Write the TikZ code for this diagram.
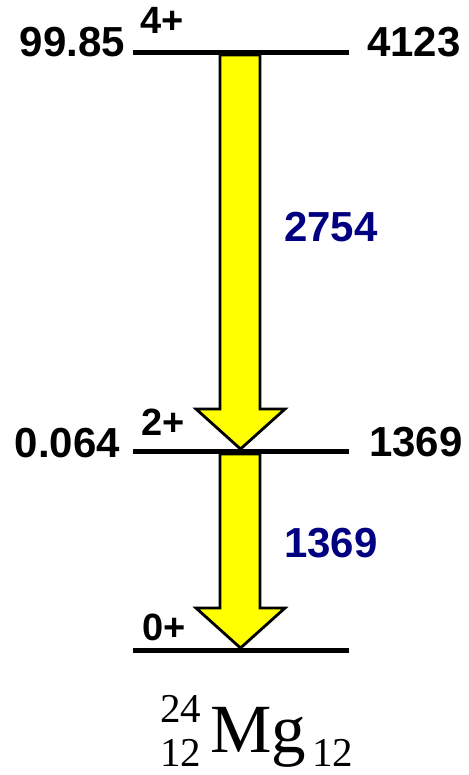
\documentclass[tikz,border=0pt]{standalone}
\usepackage{fontspec}
\setmainfont{Liberation Sans}
\newfontfamily\serifmg{Liberation Serif}
\definecolor{gamnavy}{RGB}{0,0,128}
\definecolor{arryellow}{RGB}{255,255,0}
\begin{document}
\begin{tikzpicture}[x=1pt,y=-1pt,
  lvl/.style={line width=5.5pt},
  lab/.style={font=\fontsize{42}{42}\selectfont\bfseries, inner sep=0},
  spin/.style={font=\fontsize{38}{38}\selectfont\bfseries, inner sep=0, anchor=base west},
  gam/.style={lab, text=gamnavy, anchor=base west},
  garrow/.style={fill=arryellow, draw=black, line width=2.8pt, line join=miter},
  iso/.style={inner sep=0, anchor=base west}]
\useasboundingbox (0,0) rectangle (468,775);
% level end points
\coordinate (l4a) at (133,52.5);  \coordinate (l4b) at (349,52.5);
\coordinate (l2a) at (133,451.5); \coordinate (l2b) at (349,451.5);
\coordinate (l0a) at (133,650.5); \coordinate (l0b) at (349,650.5);
% gamma arrows
\draw[garrow] (220,55) -- (260,55) -- (260,409) -- (285,409) -- (240.5,449)
  -- (196,409) -- (220,409) -- cycle;
\draw[garrow] (220,454) -- (260,454) -- (260,608) -- (285,608) -- (240.5,648)
  -- (196,608) -- (220,608) -- cycle;
% levels
\draw[lvl] (l4a) -- (l4b);
\draw[lvl] (l2a) -- (l2b);
\draw[lvl] (l0a) -- (l0b);
% labels
\node[lab, anchor=base east] (f4) at (125,57) {99.85};
\node[lab, anchor=base west] (e4) at (367,57) {4123};
\node[spin] (s4) at (140,34) {4+};
\node[lab, anchor=base east] (f2) at (120,457) {0.064};
\node[lab, anchor=base west] (e2) at (369,456) {1369};
\node[spin] (s2) at (141,435) {2+};
\node[spin] (s0) at (142,640) {0+};
\node[gam] (g1) at (284,242) {2754};
\node[gam] (g2) at (284,557) {1369};
% isotope
\node[iso, font=\serifmg\fontsize{69}{69}\selectfont] (mg) at (210,752) {Mg};
\node[iso, font=\serifmg\fontsize{41}{41}\selectfont] (amass) at (160,722) {24};
\node[iso, font=\serifmg\fontsize{41}{41}\selectfont] (znum) at (160,766) {12};
\node[iso, font=\serifmg\fontsize{41}{41}\selectfont] (nnum) at (312,766) {12};
\end{tikzpicture}
\end{document}
